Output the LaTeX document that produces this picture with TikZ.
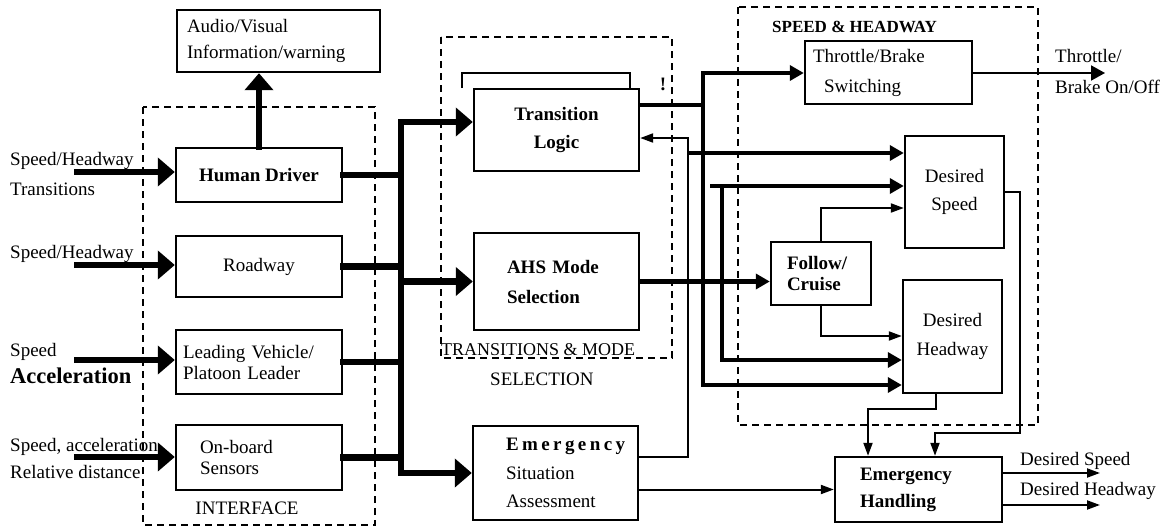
\documentclass[tikz,border=0pt]{standalone}
\usepackage{amsmath}
\usepackage{fontspec}
\setmainfont{Liberation Serif}
\usetikzlibrary{arrows.meta}

\tikzset{
    blk/.style={draw, line width=2.4pt, inner sep=0pt, align=center},
    grp/.style={draw, dashed, line width=2pt, dash pattern=on 7pt off 5pt},
    heavy/.style={line width=6.5pt, line cap=rect},
    wiremid/.style={line width=4.5pt},
    wire/.style={line width=2pt},
    bigtip/.style={-{Triangle[length=17pt,width=28pt]}},
    midtip/.style={-{Triangle[length=14pt,width=15pt]}},
    smalltip/.style={-{Triangle[length=13pt,width=9pt]}},
    lbl/.style={anchor=base west, inner sep=0pt}
}

\begin{document}
\fontsize{19}{27}\selectfont
\begin{tikzpicture}[x=1pt, y=-1pt]
                \useasboundingbox (0,0) rectangle (1172,527);
                \draw [grp] (143,107) rectangle (375,525);
                \draw [grp] (441,37) rectangle (672,358);
                \draw [grp] (738,7) rectangle (1038,425);
                \node [blk, minimum width=203pt, minimum height=62pt, text width=183pt, align=left, font=\fontsize{19}{26}\selectfont] (audio) at (278.5,41) {Audio/Visual\\Information/warning};
                \node [blk, minimum width=166pt, minimum height=54pt, font=\bfseries] (driver) at (259,175) {Human Driver};
                \node [blk, minimum width=166pt, minimum height=61pt] (road) at (259,266.5) {Roadway};
                \node [blk, minimum width=166pt, minimum height=64pt, text width=152pt, align=left, font=\fontsize{19}{21}\selectfont] (lead) at (259,362) {Leading Vehicle/\\Platoon Leader};
                \node [blk, minimum width=166pt, minimum height=65pt, text width=118pt, align=left, font=\fontsize{19}{21}\selectfont] (sensor) at (259,457.5) {On-board\\Sensors};
                \node [blk, minimum width=165pt, minimum height=82pt, font=\bfseries\fontsize{19}{28}\selectfont] (trans) at (556.5,130) {Transition\\Logic};
                \node [blk, minimum width=165pt, minimum height=97pt, text width=99pt, align=left, font=\bfseries\fontsize{19}{30}\selectfont] (ahs) at (556.5,281.5) {AHS Mode\\Selection};
                \node [blk, minimum width=165pt, minimum height=94pt, text width=99pt, align=left, font=\fontsize{19}{28.5}\selectfont] (emsit) at (555.5,473) {{\bfseries\addfontfeature{LetterSpace=18}Emergency}\\Situation\\Assessment};
                \node [blk, minimum width=167pt, minimum height=63pt, text width=151pt, align=left, font=\fontsize{19}{30}\selectfont] (brake) at (888.5,72.5) {Throttle/Brake\\\hspace*{11pt}Switching};
                \node [blk, minimum width=99pt, minimum height=112pt, font=\fontsize{19}{28}\selectfont] (dspeed) at (954.5,192) {Desired\\Speed};
                \node [blk, minimum width=100pt, minimum height=63pt, text width=68pt, align=left, font=\bfseries\fontsize{19}{21}\selectfont] (follow) at (821,273.5) {Follow/\\Cruise};
                \node [blk, minimum width=99pt, minimum height=113pt, font=\fontsize{19}{29}\selectfont] (dhead) at (952.5,336.5) {Desired\\Headway};
                \node [blk, minimum width=167pt, minimum height=65pt, text width=117pt, align=left, font=\bfseries\fontsize{19}{27}\selectfont] (emhand) at (918.5,489.5) {Emergency\\Handling};
                \node [anchor=base, inner sep=0pt] (interface) at (247,514) {INTERFACE};
                \node [lbl, font=\fontsize{18}{20}\selectfont] (transmode) at (441,355) {TRANSITIONS \& MODE};
                \node [lbl] (selection) at (490,385) {SELECTION};
                \node [lbl, font=\bfseries\fontsize{17}{20}\selectfont] (speedhead) at (772,33) {SPEED \& HEADWAY};
                \node [anchor=base, inner sep=0pt, font=\bfseries] (excl) at (663,90) {!};
                \node [lbl] (inA) at (10,165) {Speed/Headway};
                \node [lbl] (inB) at (10,195) {Transitions};
                \node [lbl] (inC) at (10,258) {Speed/Headway};
                \node [lbl] (inD) at (10,356) {Speed};
                \node [lbl, font=\bfseries\fontsize{22.5}{24}\selectfont] (inE) at (10,383) {Acceleration};
                \node [lbl] (inF) at (10,451) {Speed, acceleration};
                \node [lbl] (inG) at (10,478) {Relative distance};
                \node [lbl] (outA) at (1055,63) {Throttle/};
                \node [lbl] (outB) at (1055,93) {Brake On/Off};
                \node [lbl] (outC) at (1020,465) {Desired Speed};
                \node [lbl] (outD) at (1020,495) {Desired Headway};
                \coordinate (in1) at (77,172);
                \coordinate (in2) at (77,265);
                \coordinate (in3) at (77,360);
                \coordinate (in4) at (77,457);
                \coordinate (bustop) at (401,122);
                \coordinate (tjoin) at (703,105);
                \coordinate (ttop) at (703,73);
                \coordinate (tbot) at (703,385);
                \coordinate (ejoin) at (688,457);
                \coordinate (ebranch) at (688,153);
                \coordinate (eup) at (688,138);
                \coordinate (hstart) at (710,186);
                \coordinate (hcorner) at (722,186);
                \coordinate (hlow) at (722,360);
                \coordinate (fup) at (821,208);
                \coordinate (fdown) at (821,336);
                \coordinate (hd1) at (936,409);
                \coordinate (hd2) at (868,409);
                \coordinate (ds1) at (1020,192);
                \coordinate (ds2) at (1020,433);
                \coordinate (ds3) at (935,433);
                \coordinate (outT) at (1105,73);
                \coordinate (outS) at (1100,473);
                \coordinate (outH) at (1100,505);
                \draw [heavy, bigtip] (in1) -- (in1 -| driver.west);
                \draw [heavy, bigtip] (in2) -- (in2 -| road.west);
                \draw [heavy, bigtip] (in3) -- (in3 -| lead.west);
                \draw [heavy, bigtip] (in4) -- (in4 -| sensor.west);
                \draw [heavy, bigtip] (driver.north) -- (driver.north |- audio.south);
                \draw [heavy] (driver.east) -- (driver.east -| bustop);
                \draw [heavy] (road.east) -- (road.east -| bustop);
                \draw [heavy] (lead.east) -- (lead.east -| bustop);
                \draw [heavy] (sensor.east) -- (sensor.east -| bustop);
                \draw [heavy, bigtip, line join=miter] (bustop |- emsit.west) -- (bustop) -- (bustop -| trans.west);
                \draw [heavy, bigtip] (bustop |- ahs.west) -- (ahs.west);
                \draw [heavy, bigtip] (bustop |- emsit.west) -- (emsit.west);
                \draw [line width=2pt] (462,88) -- (462,73) -- (630,73) -- (630,88);
                \draw [wiremid] ([yshift=25pt]trans.east) -- (tjoin);
                \draw [wiremid, midtip] (tjoin) -- (ttop) -- (ttop -| brake.west);
                \draw [wiremid, midtip] (tjoin) -- (tbot) -- (tbot -| dhead.west);
                \draw [wire, smalltip] ([yshift=16pt]emsit.east) -- (ejoin) -- (eup) -- (eup -| trans.east);
                \draw [wiremid, midtip] (ebranch) -- (ebranch -| dspeed.west);
                \draw [wiremid, midtip] (hstart) -- (hstart -| dspeed.west);
                \draw [wiremid, midtip] (hcorner) -- (hlow) -- (hlow -| dhead.west);
                \draw [wiremid, midtip] (ahs.east) -- (ahs.east -| follow.west);
                \draw [wire, smalltip] (follow.north) -- (fup) -- (fup -| dspeed.west);
                \draw [wire, smalltip] (follow.south) -- (fdown) -- (fdown -| dhead.west);
                \draw [wire, smalltip] (dhead.south -| hd1) -- (hd1) -- (hd2) -- (hd2 |- emhand.north);
                \draw [wire, smalltip] (dspeed.east) -- (ds1) -- (ds2) -- (ds3) -- (ds3 |- emhand.north);
                \draw [wire, smalltip] (emsit.east |- emhand.west) -- (emhand.west);
                \draw [wire, midtip] (brake.east |- outT) -- (outT);
                \draw [wire, smalltip] (emhand.east |- outS) -- (outS);
                \draw [wire, smalltip] (emhand.east |- outH) -- (outH);
            \end{tikzpicture}
\end{document}
